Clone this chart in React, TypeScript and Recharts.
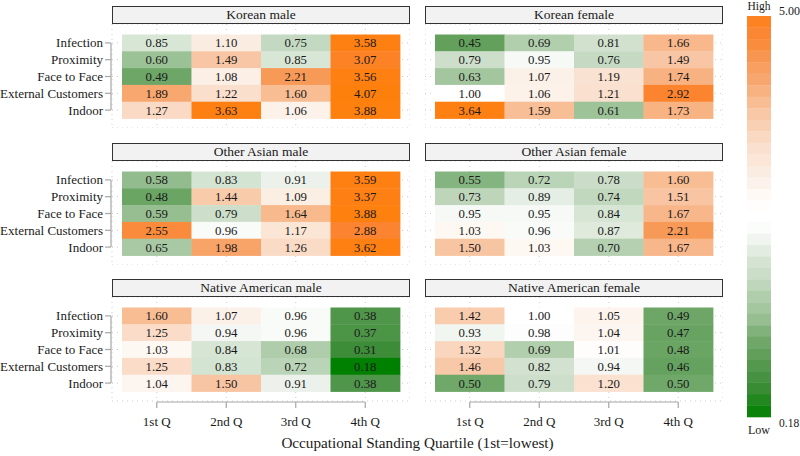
import React from "react";
import { ScatterChart, Scatter, XAxis, YAxis, CartesianGrid } from "recharts";

const quartiles = ["1st Q", "2nd Q", "3rd Q", "4th Q"];
const factors = ["Infection", "Proximity", "Face to Face", "External Customers", "Indoor"];

// rows follow factors, columns follow quartiles
const koreanMale = [
  [0.85, 1.10, 0.75, 3.58],
  [0.60, 1.49, 0.85, 3.07],
  [0.49, 1.08, 2.21, 3.56],
  [1.89, 1.22, 1.60, 4.07],
  [1.27, 3.63, 1.06, 3.88],
];
const koreanFemale = [
  [0.45, 0.69, 0.81, 1.66],
  [0.79, 0.95, 0.76, 1.49],
  [0.63, 1.07, 1.19, 1.74],
  [1.00, 1.06, 1.21, 2.92],
  [3.64, 1.59, 0.61, 1.73],
];
const otherAsianMale = [
  [0.58, 0.83, 0.91, 3.59],
  [0.48, 1.44, 1.09, 3.37],
  [0.59, 0.79, 1.64, 3.88],
  [2.55, 0.96, 1.17, 2.88],
  [0.65, 1.98, 1.26, 3.62],
];
const otherAsianFemale = [
  [0.55, 0.72, 0.78, 1.60],
  [0.73, 0.89, 0.74, 1.51],
  [0.95, 0.95, 0.84, 1.67],
  [1.03, 0.96, 0.87, 2.21],
  [1.50, 1.03, 0.70, 1.67],
];
const nativeAmericanMale = [
  [1.60, 1.07, 0.96, 0.38],
  [1.25, 0.94, 0.96, 0.37],
  [1.03, 0.84, 0.68, 0.31],
  [1.25, 0.83, 0.72, 0.18],
  [1.04, 1.50, 0.91, 0.38],
];
const nativeAmericanFemale = [
  [1.42, 1.00, 1.05, 0.49],
  [0.93, 0.98, 1.04, 0.47],
  [1.32, 0.69, 1.01, 0.48],
  [1.46, 0.82, 0.94, 0.46],
  [0.50, 0.79, 1.20, 0.50],
];

const panels = [
  { title: "Korean male", values: koreanMale },
  { title: "Korean female", values: koreanFemale },
  { title: "Other Asian male", values: otherAsianMale },
  { title: "Other Asian female", values: otherAsianFemale },
  { title: "Native American male", values: nativeAmericanMale },
  { title: "Native American female", values: nativeAmericanFemale },
];

const scaleMin = 0.18;
const scaleMax = 5.0;

const FONT = '"Liberation Serif", "Times New Roman", Times, serif';
const TEXT = "#1a1a1a";
const AXIS = "#a6a6a6";

// layout
const STRIP_TOPS = [6, 143, 279];
const STRIP_H = 18;
const COL_LEFTS = [112, 425];
const PLOT_W = 298;
const PLOT_H = 104;
const X_DOMAIN: [number, number] = [0.356, 4.644];
const Y_DOMAIN: [number, number] = [-0.125, 6.065];
const CELL_W = PLOT_W / (X_DOMAIN[1] - X_DOMAIN[0]);
const CELL_H = PLOT_H / (Y_DOMAIN[1] - Y_DOMAIN[0]);

// colour ramp, green below 1, orange above
const colourStops: [number, string][] = [
  [0.18, "#008000"],
  [0.31, "#3d8c38"],
  [0.38, "#4f964a"],
  [0.45, "#62a05c"],
  [0.5, "#70a86a"],
  [0.55, "#84b47f"],
  [0.6, "#9bc196"],
  [0.65, "#a8c9a3"],
  [0.7, "#b4d0b0"],
  [0.75, "#c4d9c1"],
  [0.8, "#cfe0cc"],
  [0.85, "#d8e6d6"],
  [0.91, "#ecf2eb"],
  [0.96, "#f9fbf9"],
  [1.0, "#ffffff"],
  [1.04, "#fdf5ef"],
  [1.1, "#fbece1"],
  [1.25, "#fadcc8"],
  [1.5, "#f8c5a2"],
  [1.65, "#f8b98c"],
  [1.9, "#f8a66e"],
  [2.2, "#f89a58"],
  [2.55, "#fa8b3c"],
  [2.9, "#fc8430"],
  [3.3, "#fe8016"],
  [5.0, "#ff7f00"],
];

const hex = (c: string) => [1, 3, 5].map((i) => parseInt(c.slice(i, i + 2), 16));

function fillFor(v: number) {
  if (v <= colourStops[0][0]) return colourStops[0][1];
  for (let i = 1; i < colourStops.length; i++) {
    const [v1, c1] = colourStops[i];
    if (v <= v1) {
      const [v0, c0] = colourStops[i - 1];
      const t = (v - v0) / (v1 - v0);
      const a = hex(c0);
      const b = hex(c1);
      const m = a.map((x, k) => Math.round(x + (b[k] - x) * t));
      return `rgb(${m[0]},${m[1]},${m[2]})`;
    }
  }
  return colourStops[colourStops.length - 1][1];
}

const renderTile = (p: any) => {
  const { cx, cy, payload } = p;
  return (
    <g>
      <rect
        x={cx - CELL_W / 2}
        y={cy - CELL_H / 2}
        width={CELL_W + 0.4}
        height={CELL_H + 0.4}
        fill={fillFor(payload.v)}
      />
      <text x={cx} y={cy + 4.5} textAnchor="middle" fontSize={12.8} fontFamily={FONT} fill={TEXT}>
        {payload.v.toFixed(2)}
      </text>
    </g>
  );
};

const XTick = (props: any) => {
  const { x, y, payload, index } = props;
  const ly = y + 1;
  const x1 = index === 0 ? x : x - CELL_W / 2;
  const x2 = index === quartiles.length - 1 ? x : x + CELL_W / 2;
  return (
    <g>
      <line x1={x1} x2={x2} y1={ly} y2={ly} stroke={AXIS} strokeWidth={1.2} />
      <line x1={x} x2={x} y1={ly} y2={ly + 6} stroke={AXIS} strokeWidth={1.2} />
      <text x={x} y={ly + 24} textAnchor="middle" fontSize={13} fontFamily={FONT} fill={TEXT}>
        {quartiles[Math.round(payload.value) - 1]}
      </text>
    </g>
  );
};

const YTick = (props: any) => {
  const { x, y, payload, index } = props;
  const lx = x - 1;
  const y1 = index === 0 ? y : y - CELL_H / 2;
  const y2 = index === factors.length - 1 ? y : y + CELL_H / 2;
  return (
    <g>
      <line x1={lx} x2={lx} y1={y1} y2={y2} stroke={AXIS} strokeWidth={1.2} />
      <line x1={lx - 6} x2={lx} y1={y} y2={y} stroke={AXIS} strokeWidth={1.2} />
      <text x={lx - 8} y={y + 4.5} textAnchor="end" fontSize={13} fontFamily={FONT} fill={TEXT}>
        {factors[Math.round(payload.value) - 1]}
      </text>
    </g>
  );
};

function Panel({ title, values, col, row }: { title: string; values: number[][]; col: number; row: number }) {
  const showY = col === 0;
  const showX = row === STRIP_TOPS.length - 1;
  const yW = showY ? COL_LEFTS[0] : 0;
  const left = showY ? 0 : COL_LEFTS[1];
  const xH = showX ? 40 : 0;
  const data = values.flatMap((r, ri) => r.map((v, ci) => ({ x: ci + 1, y: ri + 1, v })));
  return (
    <>
      <div
        style={{
          position: "absolute",
          left: COL_LEFTS[col],
          top: STRIP_TOPS[row],
          width: PLOT_W,
          height: STRIP_H,
          boxSizing: "border-box",
          border: "1.3px solid #333",
          background: "#f2f2f2",
          fontFamily: FONT,
          fontSize: 13.5,
          color: TEXT,
          textAlign: "center",
          lineHeight: `${STRIP_H - 2}px`,
        }}
      >
        {title}
      </div>
      <div style={{ position: "absolute", left, top: STRIP_TOPS[row] + STRIP_H }}>
        <ScatterChart
          width={yW + PLOT_W}
          height={PLOT_H + xH}
          margin={{ top: 0, right: 0, bottom: 0, left: 0 }}
        >
          <CartesianGrid stroke="#cccccc" strokeDasharray="1 4" strokeWidth={1} />
          <XAxis
            type="number"
            dataKey="x"
            domain={X_DOMAIN}
            ticks={[1, 2, 3, 4]}
            allowDataOverflow
            interval={0}
            height={xH}
            hide={!showX}
            axisLine={false}
            tickLine={false}
            tickSize={0}
            tickMargin={0}
            tick={<XTick />}
          />
          <YAxis
            type="number"
            dataKey="y"
            domain={Y_DOMAIN}
            reversed
            ticks={[1, 2, 3, 4, 5]}
            allowDataOverflow
            interval={0}
            width={yW}
            hide={!showY}
            axisLine={false}
            tickLine={false}
            tickSize={0}
            tickMargin={0}
            tick={<YTick />}
          />
          <Scatter data={data} shape={renderTile} isAnimationActive={false} />
        </ScatterChart>
      </div>
    </>
  );
}

function ColourBar() {
  const n = 17;
  const x = 747;
  const w = 24;
  const oTop = 16;
  const oBot = 212;
  const gTop = 222;
  const gBot = 417;
  const oh = (oBot - oTop) / n;
  const gh = (gBot - gTop) / n;
  const orange = Array.from({ length: n }, (_, i) => {
    const f = 1 - (i + 0.5) / n;
    return Math.exp(Math.pow(f, 1.6) * Math.log(3.3));
  });
  const green = Array.from({ length: n }, (_, i) => {
    const f = (i + 0.5) / n;
    return 1 - (1 - scaleMin) * f;
  });
  return (
    <svg width={800} height={456} style={{ position: "absolute", left: 0, top: 0, pointerEvents: "none" }}>
      {orange.map((v, i) => (
        <rect key={`o${i}`} x={x} y={oTop + i * oh} width={w} height={oh + 0.3} fill={fillFor(v)} />
      ))}
      {green.map((v, i) => (
        <rect key={`g${i}`} x={x} y={gTop + i * gh} width={w} height={gh + 0.3} fill={fillFor(v)} />
      ))}
      <text x={759} y={10} textAnchor="middle" fontSize={11.5} fontFamily={FONT} fill={TEXT}>
        High
      </text>
      <text x={779} y={15} fontSize={12} fontFamily={FONT} fill={TEXT}>
        {scaleMax.toFixed(2)}
      </text>
      <text x={759} y={434} textAnchor="middle" fontSize={12} fontFamily={FONT} fill={TEXT}>
        Low
      </text>
      <text x={779} y={427} fontSize={11.5} fontFamily={FONT} fill={TEXT}>
        {scaleMin.toFixed(2)}
      </text>
      <text x={417.5} y={448} textAnchor="middle" fontSize={15.2} fontFamily={FONT} fill={TEXT}>
        Occupational Standing Quartile (1st=lowest)
      </text>
    </svg>
  );
}

export default function App() {
  return (
    <div style={{ position: "absolute", left: 0, top: 0, width: 800, height: 456, background: "#fff" }}>
      {panels.map((p, i) => (
        <Panel key={p.title} title={p.title} values={p.values} col={i % 2} row={Math.floor(i / 2)} />
      ))}
      <ColourBar />
    </div>
  );
}
